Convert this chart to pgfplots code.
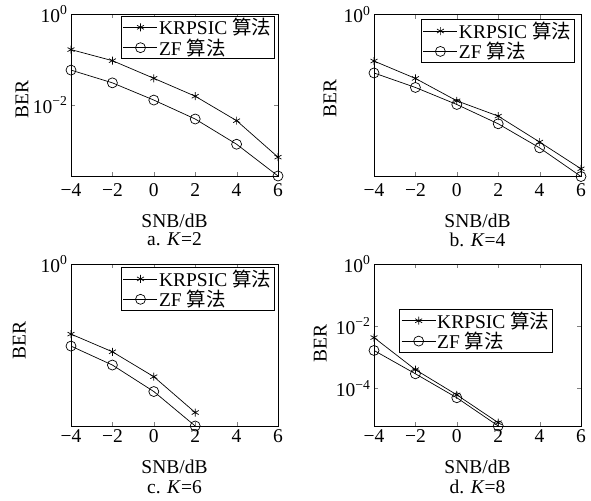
\documentclass[border=0pt]{standalone}
\usepackage{fontspec}
\setmainfont{Liberation Serif}
\newfontfamily\cjk{Noto Sans CJK SC}
\usepackage{pgfplots}
\pgfplotsset{compat=1.18}

\pgfplotsset{
  legend image code/.code={
    \draw[mark repeat=2, mark phase=2, #1]
      plot coordinates {(0bp,0bp) (17bp,0bp) (34bp,0bp)};},
  every axis/.append style={
    scale only axis, width=207bp, height=162bp,
    xmin=-4, xmax=6, ymax=1,
    xtick={-4,-2,0,2,4,6},
    xticklabels={−4,−2,0,2,4,6},
    tick align=inside, tickpos=both, major tick length=4bp,
    yminorticks=false,
    axis line style={line width=1bp},
    clip mode=individual,
    xlabel={SNB/dB},
    ylabel={BER},
    every axis title shift=0pt,
    legend cell align=left,
    legend style={draw=black, line width=1bp, inner xsep=2bp, inner ysep=1bp,
      nodes={inner sep=1.2bp}, anchor=north east},
  },
  toprow/.style={
    xticklabel style={yshift=-4bp},
    xlabel style={at={(axis description cs:0.5,-0.315)}, anchor=base, inner sep=0pt},
    title style={at={(axis description cs:0.5,-0.43)}, anchor=base, inner sep=0pt},
  },
  botrow/.style={
    xlabel style={at={(axis description cs:0.5,-0.296)}, anchor=base, inner sep=0pt},
    title style={at={(axis description cs:0.5,-0.418)}, anchor=base, inner sep=0pt},
  },
}
\tikzset{
  krp/.style={black, line width=0.7bp, mark=asterisk, mark size=4bp},
  zf/.style={black, line width=0.7bp, mark=o, mark size=5bp},
}

\begin{document}
\begin{tikzpicture}[font=\fontsize{19.5bp}{22bp}\selectfont]
\path[use as bounding box] (0,0) rectangle (591bp,-501bp);

% a. K=2
\begin{semilogyaxis}[toprow, at={(71bp,-14bp)}, anchor=north west,
  ymin=2.818e-4, ytick={1,1e-2},
  yticklabels={10\textsuperscript{0},10\textsuperscript{−2}},
  ylabel style={at={(axis description cs:-0.237,0.475)}, anchor=center},
  legend style={at={(0.985,0.99)}},
  title={a. \textit{K}=2}]
\addplot[krp] coordinates {(-4,0.166) (-2,0.095) (0,0.039) (2,0.0158) (4,0.0046) (6,7.3e-4)};
\addplot[zf] coordinates {(-4,0.059) (-2,0.031) (0,0.013) (2,0.005) (4,0.0014) (6,2.818e-4)};
\legend{KRPSIC {\cjk 算法}, ZF {\cjk 算法}}
\end{semilogyaxis}

% b. K=4
\begin{semilogyaxis}[toprow, at={(374bp,-14.5bp)}, anchor=north west,
  ymin=1e-4, ytick={1},
  yticklabels={10\textsuperscript{0}},
  ylabel style={at={(axis description cs:-0.213,0.48)}, anchor=center},
  legend style={at={(0.97,0.97)}},
  title={b. \textit{K}=4}]
\addplot[krp] coordinates {(-4,0.071) (-2,0.0264) (0,0.0074) (2,0.0031) (4,7.1e-4) (6,1.55e-4)};
\addplot[zf] coordinates {(-4,0.036) (-2,0.0158) (0,0.006) (2,0.002) (4,5.1e-4) (6,1e-4)};
\legend{KRPSIC {\cjk 算法}, ZF {\cjk 算法}}
\end{semilogyaxis}

% c. K=6
\begin{semilogyaxis}[botrow, at={(71bp,-264bp)}, anchor=north west,
  ymin=1e-4, ytick={1},
  yticklabels={10\textsuperscript{0}},
  ylabel style={at={(axis description cs:-0.25,0.53)}, anchor=center},
  legend style={at={(0.985,0.98)}},
  title={c. \textit{K}=6}]
\addplot[krp] coordinates {(-4,0.0186) (-2,0.0068) (0,0.00165) (2,2.15e-4)};
\addplot[zf] coordinates {(-4,0.0094) (-2,0.0032) (0,7.1e-4) (2,1e-4)};
\legend{KRPSIC {\cjk 算法}, ZF {\cjk 算法}}
\end{semilogyaxis}

% d. K=8
\begin{semilogyaxis}[botrow, at={(374bp,-264bp)}, anchor=north west,
  ymin=6.17e-6, ytick={1,1e-2,1e-4},
  yticklabels={10\textsuperscript{0},10\textsuperscript{−2},10\textsuperscript{−4}},
  ylabel style={at={(axis description cs:-0.26,0.51)}, anchor=center},
  legend style={at={(0.865,0.722)}},
  title={d. \textit{K}=8}]
\addplot[krp] coordinates {(-4,0.0043) (-2,4.0e-4) (0,6.2e-5) (2,7.9e-6)};
\addplot[zf] coordinates {(-4,0.00166) (-2,2.95e-4) (0,5.0e-5) (2,6.2e-6)};
\legend{KRPSIC {\cjk 算法}, ZF {\cjk 算法}}
\end{semilogyaxis}
\end{tikzpicture}
\end{document}
